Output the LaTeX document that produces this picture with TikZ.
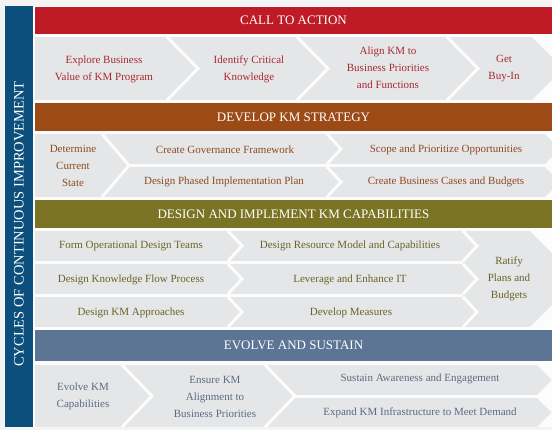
\documentclass[tikz,border=0pt]{standalone}
\usepackage{fontspec}
\setmainfont{Liberation Serif}
\usepackage{tikz}
\definecolor{fondo}{RGB}{244,244,244}
\definecolor{hueco}{RGB}{252,252,252}
\definecolor{gris}{RGB}{229,230,232}
\definecolor{barra}{RGB}{12,78,124}
\definecolor{rojo}{RGB}{190,27,38}
\definecolor{marron}{RGB}{157,75,22}
\definecolor{oliva}{RGB}{122,115,35}
\definecolor{pizarra}{RGB}{92,117,148}
\definecolor{trojo}{RGB}{170,40,50}
\definecolor{tmarron}{RGB}{140,75,35}
\definecolor{toliva}{RGB}{105,100,40}
\definecolor{tpizarra}{RGB}{92,107,128}

\begin{document}
\begin{tikzpicture}[x=1pt,y=-1pt,
  cabecera/.style={text=white,font=\fontsize{13}{15}\selectfont},
  texto/.style={align=center,font=\fontsize{11}{17}\selectfont},
  corte/.style={draw=hueco,line width=3pt,miter limit=10}]
\useasboundingbox[fill=fondo] (0,0) rectangle (552,430);
\clip (0,0) rectangle (552,430);
\fill[hueco] (5,6) rectangle (552,427);

% barra lateral
\fill[barra] (5,6) rectangle (33,427);
\node (ciclos) [rotate=90,text=white,font=\fontsize{14.5}{16}\selectfont] at (19,224) {CYCLES OF CONTINUOUS IMPROVEMENT};

% cabeceras
\fill[rojo] (35,7) rectangle (552,34);
\fill[marron] (35,103) rectangle (552,131);
\fill[oliva] (35,200) rectangle (552,228);
\fill[pizarra] (35,330) rectangle (552,361);
\path (293.5,20.5) node(cta)[cabecera]{CALL TO ACTION}
(293.5,117) node(kms)[cabecera]{DEVELOP KM STRATEGY}
(293.5,214) node(dik)[cabecera]{DESIGN AND IMPLEMENT KM CAPABILITIES}
(293.5,345.5) node(evs)[cabecera]{EVOLVE AND SUSTAIN};

% fondos grises
\fill[gris] (35,37) rectangle (552,100);
\fill[gris] (35,134) rectangle (552,197);
\fill[gris] (35,231) rectangle (552,327);
\fill[gris] (35,365) rectangle (552,427);

% bloque 1
\foreach \x in {167,297,447}
  \draw[corte] (\x,37) -- ++(31,31.5) -- ++(-31,31.5);
\fill[hueco] (532,37) -- (563.5,68.5) -- (532,100) -- (570,100) -- (570,37) -- cycle;

% bloque 2
\draw[corte] (102,134) -- (129,165.5) -- (102,197);
\draw[corte] (129,165.5) -- (552,165.5);
\foreach \y in {134,167}
  \draw[corte] (327,\y) -- ++(14,15) -- ++(-14,15);
\foreach \y in {134,167}
  \fill[hueco] (545,\y) -- ++(15,15) -- ++(-15,15) -- ++(30,0) -- ++(0,-30) -- cycle;

% bloque 3
\draw[corte] (35,262.5) -- (463,262.5);
\draw[corte] (35,295.5) -- (463,295.5);
\foreach \y in {231,264,297}{
  \draw[corte] (228,\y) -- ++(14,15) -- ++(-14,15);
  \draw[corte] (463,\y) -- ++(14,15) -- ++(-14,15);}
\fill[hueco] (530,231) -- (578,279) -- (530,327) -- (590,327) -- (590,231) -- cycle;

% bloque 4
\draw[corte] (122,365) -- (152,396) -- (122,427);
\draw[corte] (265,365) -- (295,396) -- (265,427);
\draw[corte] (295,396.5) -- (552,396.5);
\fill[hueco] (537,365) -- ++(15,15) -- ++(-15,15) -- ++(30,0) -- ++(0,-30) -- cycle;
\fill[hueco] (537,398) -- ++(15,14.5) -- ++(-15,14.5) -- ++(30,0) -- ++(0,-29) -- cycle;

% textos
\path (104,69) node(a1)[texto,text=trojo]{Explore Business\\Value of KM Program}
(249,69) node(a2)[texto,text=trojo]{Identify Critical\\Knowledge}
(388,68) node(a3)[texto,text=trojo]{Align KM to\\Business Priorities\\and Functions}
(504,69) node(a4)[texto,text=trojo]{Get\\Buy-In};
\path (73,166) node(b1)[texto,text=tmarron]{Determine\\Current\\State}
(225,150) node(b2)[texto,text=tmarron]{Create Governance Framework}
(224,182) node(b3)[texto,text=tmarron]{Design Phased Implementation Plan}
(446,150) node(b4)[texto,text=tmarron]{Scope and Prioritize Opportunities}
(446,182) node(b5)[texto,text=tmarron]{Create Business Cases and Budgets};
\path (131,246) node(c1)[texto,text=toliva]{Form Operational Design Teams}
(131,280) node(c2)[texto,text=toliva]{Design Knowledge Flow Process}
(131,313) node(c3)[texto,text=toliva]{Design KM Approaches}
(350,246) node(c4)[texto,text=toliva]{Design Resource Model and Capabilities}
(350,280) node(c5)[texto,text=toliva]{Leverage and Enhance IT}
(351,313) node(c6)[texto,text=toliva]{Develop Measures}
(509,279) node(c7)[texto,text=toliva]{Ratify\\Plans and\\Budgets};
\path (83,396) node(d1)[texto,text=tpizarra]{Evolve KM\\Capabilities}
(215,397) node(d2)[texto,text=tpizarra]{Ensure KM\\Alignment to\\Business Priorities}
(420,379) node(d3)[texto,text=tpizarra]{Sustain Awareness and Engagement}
(420,413) node(d4)[texto,text=tpizarra]{Expand KM Infrastructure to Meet Demand};
\end{tikzpicture}
\end{document}
